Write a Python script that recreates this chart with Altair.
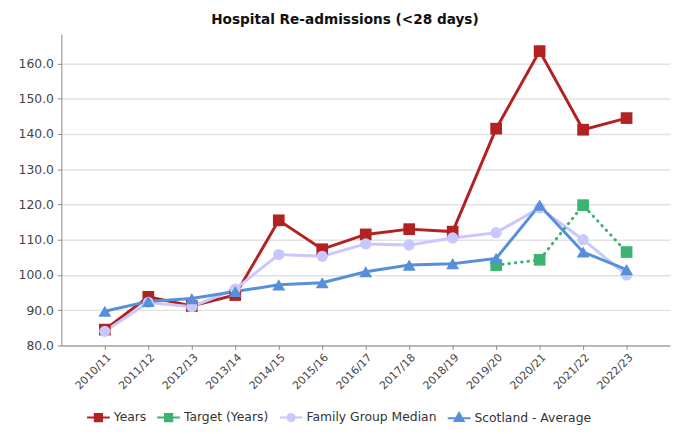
import altair as alt
import pandas as pd

years = ["2010/11", "2011/12", "2012/13", "2013/14", "2014/15", "2015/16", "2016/17",
         "2017/18", "2018/19", "2019/20", "2020/21", "2021/22", "2022/23"]

years_vals = [84.5, 93.8, 91.2, 94.3, 115.5, 107.3, 111.5, 113.0, 112.3, 141.5, 163.5, 141.2, 144.5]
target_years = ["2019/20", "2020/21", "2021/22", "2022/23"]
target_vals = [102.8, 104.3, 119.8, 106.5]
family_vals = [84.0, 92.2, 91.0, 96.0, 105.8, 105.3, 108.8, 108.5, 110.5, 112.0, 119.0, 110.0, 100.0]
scotland_vals = [89.7, 92.5, 93.3, 95.3, 97.2, 97.8, 100.9, 102.8, 103.2, 104.7, 119.8, 106.5, 101.5]

series = ["Years", "Target (Years)", "Family Group Median", "Scotland - Average"]
colors = ["#B22222", "#3CB371", "#C8C8FF", "#5590D9"]
y_ticks = [80, 90, 100, 110, 120, 130, 140, 150, 160]

rows = []
for yr, v in zip(years, years_vals):
    rows.append({"year": yr, "value": v, "series": series[0]})
for yr, v in zip(target_years, target_vals):
    rows.append({"year": yr, "value": v, "series": series[1]})
for yr, v in zip(years, family_vals):
    rows.append({"year": yr, "value": v, "series": series[2]})
for yr, v in zip(years, scotland_vals):
    rows.append({"year": yr, "value": v, "series": series[3]})
df = pd.DataFrame(rows)

FONT = "DejaVu Sans"

x_enc = alt.X("year:N", sort=years,
              scale=alt.Scale(type="point", padding=1.1),
              axis=alt.Axis(title=None, labelAngle=-45, labelBaseline="top", labelFontSize=11,
                            labelColor="#444", labelFont=FONT, domainColor="#888",
                            tickColor="#888", tickSize=4, grid=False, labelPadding=2))
y_enc = alt.Y("value:Q",
              scale=alt.Scale(domain=[80, 168.3], nice=False, zero=False),
              axis=alt.Axis(title=None, values=y_ticks, format=".1f", labelFontSize=12.5,
                            labelColor="#444", labelFont=FONT, domainColor="#888",
                            tickColor="#888", tickSize=4, labelPadding=4,
                            grid=True, gridColor="#e2e2e2", gridWidth=1.5))

leg = alt.Legend(orient="none", legendX=25, legendY=375, direction="horizontal", title=None,
                 symbolSize=529, symbolStrokeWidth=2, labelFont=FONT, labelFontSize=12.5,
                 labelColor="#333", columnPadding=7, labelOffset=3, padding=0,
                 symbolStrokeColor={"expr": "scale('color', datum.value)"})

color_enc = alt.Color("series:N", scale=alt.Scale(domain=series, range=colors), legend=leg)

base = alt.Chart(df)

def only(names):
    return alt.FieldOneOfPredicate(field="series", oneOf=names)

solid_lines = base.transform_filter(only([series[0], series[2], series[3]])).mark_line(
    strokeWidth=3, strokeCap="round").encode(x=x_enc, y=y_enc, color=color_enc)

target_line = base.transform_filter(only([series[1]])).mark_line(
    strokeWidth=3, strokeCap="round", strokeDash=[0.5, 6]).encode(x=x_enc, y=y_enc, color=color_enc)

def marker_layer(names, shape, size):
    return base.transform_filter(only(names)).mark_point(
        filled=True, opacity=1, shape=shape, size=size).encode(
        x=x_enc, y=y_enc, color=color_enc)

squares = marker_layer(series[:2], "square", 140)
circles = marker_layer([series[2]], "circle", 130)
triangles = marker_layer([series[3]], "triangle-up", 170)

sq = "M-1,0H-0.32M0.32,0H1M-0.32,-0.32H0.32V0.32H-0.32Z"
circ = "M-1,0H-0.32M0.32,0H1M0.32,0A0.32,0.32 0 1,1 -0.32,0A0.32,0.32 0 1,1 0.32,0Z"
tri = "M-1,0.05H1M0,-0.4L0.4,0.3H-0.4Z"

legend_layer = base.transform_filter("false").mark_point(filled=True, opacity=1).encode(
    x=x_enc, y=y_enc,
    color=color_enc,
    shape=alt.Shape("series:N", scale=alt.Scale(domain=series, range=[sq, sq, circ, tri]), legend=leg),
)

chart = alt.layer(solid_lines, target_line, squares, circles, triangles, legend_layer).properties(
    width=616, height=315,
    autosize=alt.AutoSizeParams(type="none"),
    padding={"left": 54, "top": 24, "right": 5, "bottom": 79},
    title=alt.TitleParams("Hospital Re-admissions (<28 days)", font=FONT, fontSize=13.8,
                          fontWeight="bold", color="#111", anchor="middle", dx=-21, offset=8),
).configure_view(strokeOpacity=0)

chart.save("out.html", embed_options={"renderer": "svg", "actions": False})
